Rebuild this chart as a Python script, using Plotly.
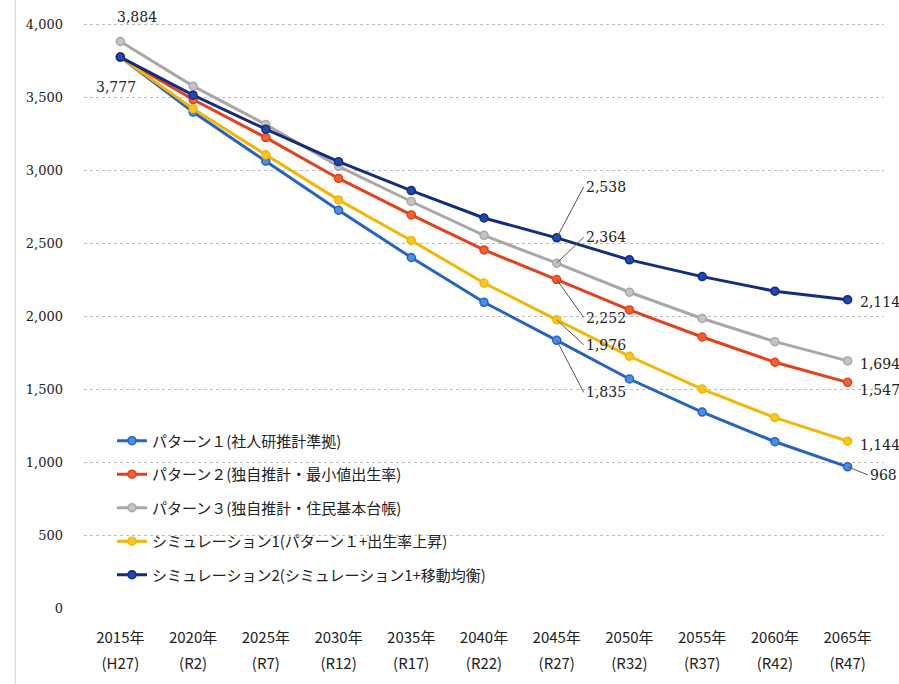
import plotly.graph_objects as go

years = ["2015年", "2020年", "2025年", "2030年", "2035年", "2040年", "2045年", "2050年", "2055年", "2060年", "2065年"]
eras = ["(H27)", "(R2)", "(R7)", "(R12)", "(R17)", "(R22)", "(R27)", "(R32)", "(R37)", "(R42)", "(R47)"]

pattern1 = [3777, 3400, 3063, 2727, 2403, 2096, 1835, 1570, 1343, 1140, 968]
pattern2 = [3777, 3486, 3225, 2945, 2695, 2455, 2252, 2044, 1858, 1685, 1547]
pattern3 = [3884, 3578, 3315, 3028, 2787, 2555, 2364, 2165, 1985, 1826, 1694]
sim1 = [3777, 3423, 3107, 2798, 2520, 2228, 1976, 1726, 1501, 1305, 1144]
sim2 = [3777, 3516, 3283, 3060, 2862, 2674, 2538, 2387, 2272, 2172, 2114]

names = ["パターン１(社人研推計準拠)",
         "パターン２(独自推計・最小値出生率)",
         "パターン３(独自推計・住民基本台帳)",
         "シミュレーション1(パターン１+出生率上昇)",
         "シミュレーション2(シミュレーション1+移動均衡)"]
series = [pattern1, pattern2, pattern3, sim1, sim2]
line_colors = ["#2563C4", "#E5401C", "#A8A8A8", "#F2B705", "#142D7E"]
marker_colors = ["#4A8FE0", "#F0622E", "#C4C4C4", "#F7C623", "#1F47B5"]

fig = go.Figure()
for i, (nm, vals) in enumerate(zip(names, series)):
    fig.add_trace(go.Scatter(
        x=years, y=vals, name=nm, mode="lines+markers",
        legendgroup=f"g{i}",
        line=dict(color=line_colors[i], width=3),
        marker=dict(size=8, color=marker_colors[i], line=dict(color=line_colors[i], width=1.5)),
    ))
# invisible trace carrying the era labels on the second category axis
fig.add_trace(go.Scatter(x=eras, y=[None] * len(eras), xaxis="x2", showlegend=False,
                         hoverinfo="skip", mode="markers"))

label_font = dict(family="DejaVu Serif", size=14, color="#222222")
ann = []
ann.append(dict(x=years[0], y=pattern3[0], text=f"{pattern3[0]:,}", showarrow=False,
                xshift=17, yshift=25, font=label_font))
ann.append(dict(x=years[0], y=pattern1[0], text=f"{pattern1[0]:,}", showarrow=False,
                xshift=-4, yshift=-30, font=label_font))
i45 = 6
for vals, ay in [(sim2, -51), (pattern3, -26), (pattern2, 38), (sim1, 25), (pattern1, 52)]:
    ann.append(dict(x=years[i45], y=vals[i45], text=f"{vals[i45]:,}", showarrow=True,
                    arrowhead=0, arrowwidth=1, arrowcolor="#555555", ax=27, ay=ay,
                    xanchor="left", font=label_font))
for vals, ys in [(sim2, -2), (pattern3, -3), (pattern2, -8), (sim1, -4)]:
    ann.append(dict(x=years[-1], y=vals[-1], text=f"{vals[-1]:,}", showarrow=False,
                    xanchor="left", xshift=10, yshift=ys, font=label_font))
ann.append(dict(x=years[-1], y=pattern1[-1], text=f"{pattern1[-1]:,}", showarrow=True,
                arrowhead=0, arrowwidth=1, arrowcolor="#555555", ax=20, ay=8,
                xanchor="left", font=label_font))

xfont = dict(family="Noto Sans CJK JP", size=15, color="#222222")
fig.update_layout(
    width=899, height=684,
    margin=dict(l=84, r=15, t=10, b=76),
    paper_bgcolor="white", plot_bgcolor="white",
    annotations=ann,
    showlegend=True,
    legend=dict(x=0.035, y=0.307, xanchor="left", yanchor="top",
                font=dict(family="Noto Sans CJK JP", size=15, color="#222222"),
                tracegroupgap=11, bgcolor="rgba(255,255,255,0)"),
    xaxis=dict(type="category", range=[-0.5, 10.5], showgrid=False, showline=False,
               ticks="", tickfont=xfont, ticklabelstandoff=19),
    xaxis2=dict(type="category", range=[-0.5, 10.5], overlaying="x", side="bottom",
                showgrid=False, showline=False, zeroline=False, ticks="", tickfont=xfont,
                ticklabelstandoff=45),
    yaxis=dict(range=[0, 4100], tickvals=[0, 500, 1000, 1500, 2000, 2500, 3000, 3500, 4000],
               tickformat=",", showgrid=True, gridcolor="#BDBDBD", griddash="dot", gridwidth=1,
               zeroline=False, showline=False, ticks="",
               tickfont=dict(family="DejaVu Serif", size=13, color="#222222"),
               ticklabelstandoff=20),
    shapes=[dict(type="line", xref="paper", yref="paper", x0=-0.086, x1=-0.086, y0=-0.13, y1=1.02,
                 line=dict(color="#D0D0D0", width=1))],
)

fig.write_html("out.html")
